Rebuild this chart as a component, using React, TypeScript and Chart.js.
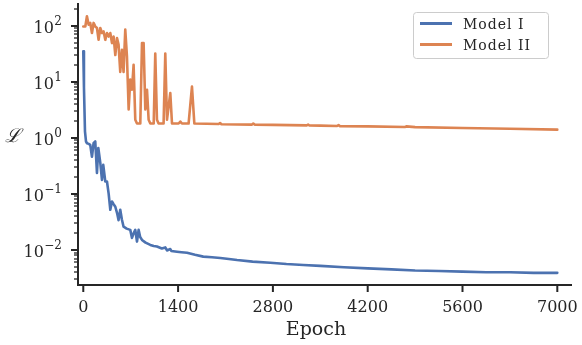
import React, { useEffect, useRef } from "react";
import { Chart, registerables } from "chart.js";
Chart.register(...registerables);

const labelI = "Model I";
const labelII = "Model II";
const colorI = "#4C72B0";
const colorII = "#DD8452";

const epochsI = [0, 10, 25, 40, 55, 80, 103, 128, 152, 177, 202, 222, 251, 276, 295, 325, 350, 375, 399, 424, 450, 473, 500, 521, 546, 570, 595, 640, 694, 719, 745, 768, 793, 817, 840, 867, 920, 990, 1040, 1088, 1160, 1211, 1236, 1285, 1300, 1384, 1450, 1532, 1650, 1772, 1900, 2024, 2150, 2270, 2500, 2762, 3000, 3250, 3500, 3850, 4200, 4550, 4900, 5250, 5600, 5950, 6300, 6650, 7000];
const lossI = [35, 8, 1.3, 0.86, 0.8, 0.78, 0.75, 0.46, 0.8, 0.86, 0.237, 0.66, 0.36, 0.178, 0.33, 0.166, 0.166, 0.1, 0.052, 0.073, 0.065, 0.059, 0.045, 0.034, 0.052, 0.035, 0.026, 0.024, 0.0228, 0.0164, 0.02, 0.0228, 0.0141, 0.0228, 0.017, 0.0151, 0.0135, 0.0123, 0.0118, 0.0115, 0.0106, 0.0111, 0.0098, 0.0104, 0.0096, 0.0093, 0.0091, 0.0089, 0.0082, 0.0076, 0.0074, 0.0072, 0.0069, 0.0066, 0.0062, 0.0059, 0.0056, 0.0054, 0.0052, 0.0049, 0.0047, 0.0045, 0.0043, 0.0042, 0.0041, 0.004, 0.004, 0.0039, 0.0039];

const epochsII = [0, 30, 54, 79, 103, 128, 152, 177, 202, 226, 251, 276, 300, 325, 350, 374, 399, 424, 448, 473, 498, 521, 546, 571, 595, 620, 645, 670, 694, 719, 743, 768, 793, 842, 867, 891, 916, 941, 965, 990, 1040, 1063, 1088, 1112, 1186, 1211, 1236, 1285, 1310, 1408, 1433, 1457, 1555, 1605, 1640, 1999, 2020, 2040, 2491, 2510, 2530, 2800, 3300, 3320, 3340, 3500, 3750, 3770, 3790, 4200, 4750, 4770, 4900, 5600, 6300, 7000];
const lossII = [97, 97, 147, 104, 112, 74, 112, 97, 91, 56, 91, 74, 79, 56, 74, 64, 74, 49, 64, 30, 60, 46, 15, 37, 15, 85, 28, 3.2, 11, 7.2, 20, 2.1, 1.8, 1.8, 49, 49, 3.2, 7.2, 2.1, 1.8, 1.8, 32, 2.1, 1.8, 1.8, 32, 2.1, 6.3, 1.8, 1.8, 1.95, 1.8, 1.8, 8.2, 1.8, 1.76, 1.84, 1.75, 1.72, 1.8, 1.72, 1.7, 1.67, 1.72, 1.66, 1.65, 1.63, 1.68, 1.62, 1.6, 1.56, 1.6, 1.55, 1.5, 1.45, 1.4];

const xTicks = [0, 1400, 2800, 4200, 5600, 7000];
const yExponents = [-2, -1, 0, 1, 2];
const xTitle = "Epoch";
const yTitle = "ℒ";

const FONT = '"DejaVu Serif", "Liberation Serif", serif';
const INK = "#262626";

const mplPlugin = {
  id: "mplAxes",
  afterDraw(chart: any) {
    const { ctx, chartArea: ca, scales } = chart;
    const xs = scales.x;
    const ys = scales.y;
    ctx.save();
    ctx.strokeStyle = INK;
    ctx.fillStyle = INK;
    ctx.lineCap = "butt";

    ctx.lineWidth = 2;
    ctx.beginPath();
    ctx.moveTo(ca.left, ca.top);
    ctx.lineTo(ca.left, ca.bottom);
    ctx.lineTo(ca.right, ca.bottom);
    ctx.stroke();

    const yMin = ys.min;
    const yMax = ys.max;
    const eLo = Math.floor(Math.log10(yMin));
    const eHi = Math.ceil(Math.log10(yMax));
    for (let e = eLo; e <= eHi; e++) {
      for (let m = 1; m <= 9; m++) {
        const v = m * Math.pow(10, e);
        if (v < yMin || v > yMax) continue;
        const py = Math.round(ys.getPixelForValue(v));
        const major = m === 1;
        ctx.lineWidth = major ? 2 : 1.3;
        ctx.beginPath();
        ctx.moveTo(ca.left, py);
        ctx.lineTo(ca.left - (major ? 7 : 4), py);
        ctx.stroke();
      }
    }

    ctx.textBaseline = "alphabetic";
    for (const e of yExponents) {
      const py = ys.getPixelForValue(Math.pow(10, e));
      const expText = e < 0 ? "\u2212" + Math.abs(e) : String(e);
      ctx.font = `12px ${FONT}`;
      const ew = ctx.measureText(expText).width;
      const right = ca.left - 16;
      ctx.textAlign = "right";
      ctx.fillText(expText, right, py - 1);
      ctx.font = `16px ${FONT}`;
      ctx.fillText("10", right - ew - 0.5, py + 7.5);
    }

    ctx.font = `16px ${FONT}`;
    ctx.textAlign = "center";
    for (const t of xTicks) {
      const px = xs.getPixelForValue(t);
      ctx.lineWidth = 2;
      ctx.beginPath();
      ctx.moveTo(px, ca.bottom);
      ctx.lineTo(px, ca.bottom + 7);
      ctx.stroke();
      ctx.fillText(String(t), px, ca.bottom + 27);
    }

    ctx.font = `19px ${FONT}`;
    ctx.fillText(xTitle, 316, ca.bottom + 50);
    ctx.font = `italic 19px ${FONT}`;
    ctx.fillText(yTitle, 13, 142);

    const lx = 413, ly = 12, lw = 135, lh = 46;
    ctx.beginPath();
    ctx.roundRect(lx + 0.5, ly + 0.5, lw, lh, 3);
    ctx.fillStyle = "rgba(255,255,255,0.85)";
    ctx.fill();
    ctx.strokeStyle = "#cccccc";
    ctx.lineWidth = 1;
    ctx.stroke();
    const items = chart.data.datasets;
    items.forEach((ds: any, i: number) => {
      const yy = ly + 11.5 + i * 21;
      ctx.strokeStyle = ds.borderColor;
      ctx.lineWidth = 3;
      ctx.beginPath();
      ctx.moveTo(lx + 7, yy);
      ctx.lineTo(lx + 39, yy);
      ctx.stroke();
      ctx.fillStyle = INK;
      ctx.font = `14px ${FONT}`;
      ctx.textAlign = "left";
      try { (ctx as any).letterSpacing = "1px"; } catch (err) {}
      ctx.fillText(ds.label, lx + 50, yy + 5.5);
      try { (ctx as any).letterSpacing = "0px"; } catch (err) {}
    });
    ctx.restore();
  },
};

export default function App() {
  const ref = useRef<HTMLCanvasElement | null>(null);
  useEffect(() => {
    if (!ref.current) return;
    const chart = new Chart(ref.current, {
      type: "line",
      data: {
        datasets: [
          {
            label: labelI,
            data: epochsI.map((x, i) => ({ x, y: lossI[i] })),
            borderColor: colorI,
            backgroundColor: colorI,
            borderWidth: 2.6,
            borderJoinStyle: "round",
            borderCapStyle: "round",
            pointRadius: 0,
            tension: 0,
          },
          {
            label: labelII,
            data: epochsII.map((x, i) => ({ x, y: lossII[i] })),
            borderColor: colorII,
            backgroundColor: colorII,
            borderWidth: 2.6,
            borderJoinStyle: "round",
            borderCapStyle: "round",
            pointRadius: 0,
            tension: 0,
          },
        ],
      },
      options: {
        responsive: false,
        maintainAspectRatio: false,
        animation: false,
        layout: { padding: { top: 3, right: 10, left: 0, bottom: 0 } },
        plugins: { legend: { display: false }, tooltip: { enabled: false } },
        scales: {
          x: {
            type: "linear",
            min: -78,
            max: 7217,
            grid: { display: false },
            border: { display: false },
            ticks: { display: false },
            afterFit: (s: any) => { s.height = 60; },
          },
          y: {
            type: "logarithmic",
            min: 0.00237,
            max: 254,
            grid: { display: false },
            border: { display: false },
            ticks: { display: false },
            afterFit: (s: any) => { s.width = 78; },
          },
        },
      },
      plugins: [mplPlugin],
    } as any);
    return () => chart.destroy();
  }, []);
  return (
    <div style={{ position: "fixed", left: 0, top: 0, width: 582, height: 345, background: "#fff" }}>
      <canvas ref={ref} width={582} height={345} style={{ display: "block" }} />
    </div>
  );
}
